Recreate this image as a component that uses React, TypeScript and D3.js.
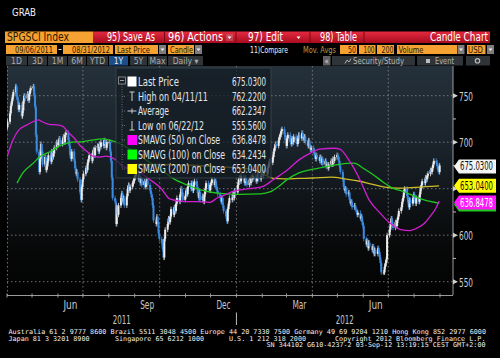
import React from "react";
import * as d3 from "d3";

// ---------------- DATA ----------------
const openingPrice = 716;
const closesApr2011 = [722, 731, 739, 744, 749, 754, 760, 749, 745, 735, 740, 728, 734, 744, 750, 747, 752, 745, 752, 756, 758];
const closesMay2011 = [760, 750, 738, 708, 690, 668, 682, 698, 690, 676, 684, 670, 674, 680, 686, 679, 690, 684, 688, 694, 700, 697];
const closesJun2011 = [700, 704, 698, 702, 706, 700, 708, 710, 702, 696, 686, 682, 690, 680, 672, 666, 668, 660, 646, 638, 652, 660];
const closesJul2011 = [666, 672, 670, 678, 682, 686, 680, 688, 692, 686, 694, 696, 690, 698, 695, 700, 696, 702, 698, 694, 700];
const closesAug2011 = [700, 690, 680, 662, 640, 636, 612, 630, 622, 632, 640, 645, 636, 640, 632, 642, 650, 654, 648, 652, 656, 658, 662];
const closesSep2011 = [664, 668, 660, 664, 656, 660, 654, 658, 652, 656, 660, 654, 648, 644, 640, 632, 616, 612, 620, 614, 602, 596];
const closesOct2011 = [592, 585, 576, 596, 606, 612, 618, 614, 620, 628, 622, 630, 626, 634, 640, 636, 644, 650, 646, 638, 642];
const closesNov2011 = [648, 644, 652, 656, 650, 656, 648, 654, 658, 652, 645, 640, 646, 638, 642, 636, 644, 650, 656, 652, 648, 654];
const closesDec2011 = [656, 660, 654, 658, 652, 648, 644, 640, 636, 640, 632, 626, 620, 615, 628, 634, 640, 638, 644, 640, 648, 646];
const closesJan2012 = [654, 660, 662, 658, 664, 660, 656, 662, 658, 654, 660, 656, 662, 660, 664, 660, 658, 662, 666, 660, 664, 666];
const closesFeb2012 = [664, 668, 670, 666, 672, 676, 680, 678, 684, 690, 694, 698, 696, 702, 706, 708, 712, 714, 708, 702, 696];
const closesMar2012 = [704, 708, 700, 698, 704, 700, 706, 702, 698, 704, 708, 704, 710, 706, 702, 706, 700, 696, 702, 696, 692, 694];
const closesApr2012 = [690, 686, 682, 686, 684, 680, 684, 678, 682, 676, 680, 674, 676, 672, 676, 680, 676, 682, 680, 684, 686];
const closesMay2012 = [684, 680, 674, 668, 660, 652, 648, 650, 644, 646, 638, 634, 636, 630, 632, 628, 626, 622, 624, 618, 620, 614, 610];
const closesJun2012 = [596, 590, 594, 586, 592, 588, 584, 588, 580, 584, 580, 586, 582, 576, 570, 560, 560, 566, 570, 574, 600];
const closesJul2012 = [606, 612, 618, 612, 608, 614, 610, 616, 620, 626, 630, 636, 640, 646, 650, 642, 636, 630, 638, 634, 640, 644];
const closesAug2012 = [638, 634, 640, 636, 644, 650, 654, 658, 656, 662, 660, 664, 666, 670, 668, 672, 676, 680, 678, 674, 670, 668, 675.03];

const months: [number, number, number[]][] = [
  [2011, 3, closesApr2011], [2011, 4, closesMay2011], [2011, 5, closesJun2011], [2011, 6, closesJul2011],
  [2011, 7, closesAug2011], [2011, 8, closesSep2011], [2011, 9, closesOct2011], [2011, 10, closesNov2011],
  [2011, 11, closesDec2011], [2012, 0, closesJan2012], [2012, 1, closesFeb2012], [2012, 2, closesMar2012],
  [2012, 3, closesApr2012], [2012, 4, closesMay2012], [2012, 5, closesJun2012], [2012, 6, closesJul2012],
  [2012, 7, closesAug2012],
];

const sma50: [string, number][] = [
  ["2011-04-01", 684], ["2011-04-08", 702], ["2011-04-15", 713], ["2011-04-25", 718.6], ["2011-05-02", 722],
  ["2011-05-09", 724], ["2011-05-13", 722], ["2011-05-23", 719], ["2011-05-31", 718.6], ["2011-06-07", 717],
  ["2011-06-13", 711], ["2011-06-20", 705], ["2011-06-27", 697], ["2011-07-06", 690], ["2011-07-13", 685],
  ["2011-07-21", 684], ["2011-07-29", 685], ["2011-08-08", 682], ["2011-08-18", 674], ["2011-09-05", 668.6],
  ["2011-09-19", 660], ["2011-10-03", 650], ["2011-10-13", 639], ["2011-10-28", 636.4], ["2011-11-15", 636],
  ["2011-11-30", 635.4], ["2011-12-09", 640], ["2011-12-19", 643.6], ["2011-12-28", 647], ["2012-01-17", 650],
  ["2012-02-02", 652.5], ["2012-02-14", 659.6], ["2012-03-02", 670], ["2012-03-16", 681], ["2012-03-29", 688],
  ["2012-04-10", 692.5], ["2012-04-27", 693.5], ["2012-05-04", 692.5], ["2012-05-16", 679], ["2012-05-28", 659.6],
  ["2012-06-08", 638], ["2012-06-21", 624], ["2012-07-03", 613], ["2012-07-16", 606], ["2012-07-27", 605],
  ["2012-08-03", 607], ["2012-08-13", 612.5], ["2012-08-20", 620], ["2012-08-27", 629], ["2012-08-31", 636.85],
];
const sma100: [string, number][] = [
  ["2011-04-13", 656], ["2011-04-20", 667], ["2011-05-02", 677], ["2011-05-10", 684], ["2011-05-23", 690],
  ["2011-06-03", 696], ["2011-06-15", 699.6], ["2011-07-01", 700.7], ["2011-07-18", 703], ["2011-07-25", 703.6],
  ["2011-08-08", 700.7], ["2011-08-26", 693], ["2011-09-13", 682], ["2011-10-03", 670], ["2011-10-19", 660],
  ["2011-11-03", 654], ["2011-11-18", 649], ["2011-12-12", 645], ["2012-01-05", 644], ["2012-01-30", 644.5],
  ["2012-02-10", 646.5], ["2012-02-20", 652], ["2012-03-02", 660], ["2012-03-16", 667], ["2012-04-02", 671],
  ["2012-04-19", 674], ["2012-05-01", 676], ["2012-05-21", 677.5], ["2012-06-01", 672], ["2012-06-13", 665],
  ["2012-06-25", 657], ["2012-07-06", 650.7], ["2012-07-19", 647], ["2012-07-31", 642.5], ["2012-08-13", 638],
  ["2012-08-24", 635.7], ["2012-08-31", 634.24],
];
const sma200: [string, number][] = [
  ["2011-08-31", 676], ["2011-09-19", 676], ["2011-10-25", 675.5], ["2011-12-05", 674], ["2012-01-05", 672],
  ["2012-01-17", 671], ["2012-02-02", 666], ["2012-02-14", 661], ["2012-02-28", 660.5], ["2012-03-16", 661],
  ["2012-04-02", 661.5], ["2012-04-23", 662.5], ["2012-05-14", 660], ["2012-05-28", 658], ["2012-06-08", 655.5],
  ["2012-06-25", 652], ["2012-07-12", 650.7], ["2012-08-03", 651.5], ["2012-08-31", 653.04],
];

const yTicks = [550, 600, 650, 700, 750];
const yTickLabels = [550, 600, 700, 750];
const yMinorTicks = [575, 625, 675, 725];
const monthLabelKeys = ["2011-06", "2011-09", "2011-12", "2012-03", "2012-06"];
const yearLabels = ["2011", "2012"];

const legendLabels = ["Last Price", "High on 04/11/11", "Average", "Low on 06/22/12", "SMAVG (50) on Close", "SMAVG (100) on Close", "SMAVG (200) on Close"];
const legendValues = ["675.0300", "762.2200", "662.2347", "555.5600", "636.8478", "634.2434", "653.0400"];
const legendWidths = [41, 70, 31, 66, 82, 87, 87];

const lastPrice = 675.03;
const lastSma50 = 636.8478;
const lastSma200 = 653.04;

const footer1 = "Australia 61 2 9777 8600 Brazil 5511 3048 4500 Europe 44 20 7330 7500 Germany 49 69 9204 1210 Hong Kong 852 2977 6000";
const footer2 = ["Japan 81 3 3201 8900", "Singapore 65 6212 1000", "U.S. 1 212 318 2000", "Copyright 2012 Bloomberg Finance L.P."];
const footer3 = "SN 344102 G610-4237-2 03-Sep-12 13:19:15 CEST GMT+2:00";

// ---------------- STYLE ----------------
const FONT = '"Liberation Sans Narrow", "DejaVu Sans Condensed", "Arial Narrow", "Liberation Sans", sans-serif';
const MONO = '"DejaVu Sans Mono", "Liberation Mono", monospace';
const ORANGE = "#f5a232";
const C50 = "#d21ed2";
const C100 = "#1fc81f";
const C200 = "#cdbd2c";

const L = 7, R = 453, T = 66, B = 295;

const parse = d3.utcParse("%Y-%m-%d");
const parseM = d3.utcParse("%Y-%m");

function weekdays(y: number, m: number) {
  return d3.utcDay
    .range(new Date(Date.UTC(y, m, 1)), new Date(Date.UTC(y, m + 1, 1)))
    .filter((d) => d.getUTCDay() !== 0 && d.getUTCDay() !== 6);
}

export default function App() {
  const x = d3.scaleUtc().domain([new Date(Date.UTC(2011, 3, 1)), new Date(Date.UTC(2012, 8, 1))]).range([L, 440]);
  const y = d3.scaleLinear().domain([550, 750]).range([281.7, 95.7]);

  const bars: { date: Date; open: number; close: number }[] = [];
  let prev = openingPrice;
  months.forEach(([yy, mm, closes]) => {
    const days = weekdays(yy, mm);
    closes.forEach((c, i) => {
      if (days[i]) bars.push({ date: days[i], open: prev, close: c });
      prev = c;
    });
  });

  const line = d3
    .line<[string, number]>()
    .x((d) => x(parse(d[0])!))
    .y((d) => y(d[1]))
    .curve(d3.curveMonotoneX);

  const monthTicks = d3.utcMonth.range(new Date(Date.UTC(2011, 3, 1)), new Date(Date.UTC(2012, 8, 2)));
  const quarterLines = monthTicks.filter((d) => d.getUTCMonth() % 3 === 0 && d > monthTicks[0]);
  const jan2012 = x(new Date(Date.UTC(2012, 0, 1)));

  const tagShape = (cy: number, fill: string) => {
    const h = 7;
    return <path d={`M454,${cy} L459,${cy - h} L496,${cy - h} L496,${cy + h} L459,${cy + h} Z`} fill={fill} />;
  };
  const tag = (v: number, cy: number, fill: string, color: string, key: string) => (
    <g key={key}>
      {tagShape(cy, fill)}
      <text x={460} y={cy + 4} fontFamily={FONT} fontSize={11.5} fill={color} textLength={33} lengthAdjust="spacingAndGlyphs">
        {v.toFixed(4)}
      </text>
    </g>
  );

  const box = (x0: number, y0: number, w: number, h: number, fill: string, key: string) => (
    <rect key={key} x={x0} y={y0} width={w} height={h} fill={fill} />
  );
  const dd = (x0: number, y0: number, key: string) => (
    <g key={key}>
      <rect x={x0} y={y0} width={7} height={9} fill="#7d7d7d" />
      <path d={`M${x0 + 1.5},${y0 + 3.5} L${x0 + 5.5},${y0 + 3.5} L${x0 + 3.5},${y0 + 6} Z`} fill="#eee" />
    </g>
  );
  const txt = (s: string, x0: number, y0: number, size: number, fill: string, w?: number, anchor = "start", key?: string) => (
    <text key={key || s + x0} x={x0} y={y0} fontFamily={FONT} fontSize={size} fill={fill} textAnchor={anchor}
      {...(w ? { textLength: w, lengthAdjust: "spacingAndGlyphs" } : {})}>
      {s}
    </text>
  );

  const rowY = [82, 96.5, 111, 125.5, 140, 154.5, 169];

  return (
    <svg width={500} height={358} style={{ position: "absolute", left: 0, top: 0, display: "block", background: "#000" }}>
      <defs>
        <linearGradient id="bg" x1="0" y1="0" x2="0" y2="1">
          <stop offset="0" stopColor="#24303a" />
          <stop offset="0.35" stopColor="#1a232b" />
          <stop offset="0.6" stopColor="#0f1317" />
          <stop offset="0.8" stopColor="#070808" />
          <stop offset="1" stopColor="#020202" />
        </linearGradient>
        <linearGradient id="red" x1="0" y1="0" x2="0" y2="1">
          <stop offset="0" stopColor="#e42a40" />
          <stop offset="1" stopColor="#a80c1e" />
        </linearGradient>
        <clipPath id="plot">
          <rect x={L} y={T} width={R - L} height={B - T} />
        </clipPath>
      </defs>
      <rect x={0} y={0} width={500} height={358} fill="#000" />

      {/* header */}
      {txt("GRAB", 12, 16, 11, "#f0f0f0", 24)}
      {box(5, 31.5, 88, 11.5, ORANGE, "b1")}
      {txt("SPGSCI Index", 7, 41, 11.5, "#2a1800", 62)}
      <rect x={93} y={31.5} width={397} height={11.5} fill="url(#red)" />
      <line x1={164.5} y1={31.5} x2={164.5} y2={43} stroke="#7a0810" />
      <line x1={236} y1={31.5} x2={236} y2={43} stroke="#7a0810" />
      <line x1={310} y1={31.5} x2={310} y2={43} stroke="#7a0810" />
      <line x1={364} y1={31.5} x2={364} y2={43} stroke="#7a0810" />
      {txt("95) Save As", 107, 41, 11.5, "#fff", 48)}
      {txt("96) Actions", 168, 41, 11.5, "#fff", 55)}
      <rect x={226} y={34} width={7} height={7} fill="#c8c8c8" opacity={0.25} />
      <path d="M227.5,36.5 L231.5,36.5 L229.5,39 Z" fill="#fff" />
      {txt("97) Edit", 248, 41, 11.5, "#fff", 35)}
      <path d="M296.5,36.5 L300.5,36.5 L298.5,39 Z" fill="#fff" />
      {txt("98) Table", 320, 41, 11.5, "#fff", 37)}
      {txt("Candle Chart", 488, 41, 11.5, "#fff", 58, "end")}

      {/* row 2 */}
      {box(6, 45, 51, 9, ORANGE, "r2a")}
      {txt("09/06/2011", 15, 52.5, 9, "#2a1800", 38)}
      <line x1={58.5} x2={61.5} y1={49.5} y2={49.5} stroke="#ddd" strokeWidth={1} />
      {box(63, 45, 50, 9, ORANGE, "r2b")}
      {txt("08/31/2012", 72, 52.5, 9, "#2a1800", 38)}
      {box(115, 45, 43, 9, ORANGE, "r2c")}
      {txt("Last Price", 117, 52.5, 9, "#2a1800", 33)}
      {dd(159, 45, "dd1")}
      {box(168, 45, 26, 9, ORANGE, "r2d")}
      {txt("Candle", 170, 52.5, 9, "#2a1800", 23)}
      {dd(195, 45, "dd2")}
      {txt("11)Compare", 250, 52.5, 9, "#f0f0f0", 38)}
      {txt("Mov. Avgs", 303, 52.5, 9, "#b89c48", 33)}
      {box(340, 45, 17, 9, ORANGE, "m1")}
      {txt("50", 356, 52.5, 9, "#2a1800", 8, "end")}
      {box(359, 45, 16.5, 9, ORANGE, "m2")}
      {txt("100", 374.5, 52.5, 9, "#2a1800", 11, "end")}
      {box(377, 45, 17, 9, ORANGE, "m3")}
      {txt("200", 393.5, 52.5, 9, "#2a1800", 12, "end")}
      {box(397, 45, 60, 9, ORANGE, "m4")}
      {txt("Volume", 398.5, 52.5, 9, "#2a1800", 25)}
      {dd(457.5, 45, "dd3")}
      {box(467, 45, 18.5, 9, ORANGE, "m5")}
      {txt("USD", 468, 52.5, 9, "#2a1800", 15)}
      {dd(487, 45, "dd4")}

      {/* row 3 */}
      {[
        ["1D", 6, 27], ["3D", 28, 47], ["1M", 48, 67], ["6M", 68, 86], ["YTD", 87, 108], ["1Y", 109, 128],
        ["5Y", 130, 147], ["Max", 148, 167], ["Daily \u25BE", 168, 203],
      ].map(([s, a, b]) => (
        <g key={"t" + s}>
          <rect x={a as number} y={56} width={(b as number) - (a as number)} height={9.5} fill={s === "1Y" ? "#1d4d88" : "#2f3438"} />
          <text x={((a as number) + (b as number)) / 2} y={63.8} fontFamily={FONT} fontSize={8.5} fill={s === "1Y" ? "#e8e8e8" : "#a9adb0"} textAnchor="middle">
            {s}
          </text>
        </g>
      ))}
      <rect x={323} y={56} width={7.5} height={9.5} fill="#5e6266" />
      {txt("\u00AB", 324.5, 63.5, 8, "#ddd")}
      <rect x={332} y={56} width={83} height={9.5} fill="#2f3438" />
      <path d="M345,63.5 L347,60 L349,62 L351,58.5" stroke="#bbb" fill="none" strokeWidth={0.9} />
      {txt("Security/Study", 353, 63.8, 8.5, "#b0b4b7", 51)}
      <rect x={417} y={56} width={46} height={9.5} fill="#2f3438" />
      <rect x={426} y={59} width={4} height={4} fill="#bbb" />
      {txt("Event", 435, 63.8, 8.5, "#b0b4b7", 19)}
      <rect x={466} y={56} width={24} height={9.5} fill="#2f3438" />
      <circle cx={477.5} cy={60.8} r={2.2} fill="none" stroke="#bbb" strokeWidth={1.2} />

      {/* plot background */}
      <rect x={L} y={T} width={R - L} height={B - T} fill="url(#bg)" />

      {/* grid */}
      {yTicks.map((t) => (
        <line key={"gy" + t} x1={L} x2={R} y1={y(t)} y2={y(t)} stroke="#8c8c8c" strokeWidth={0.8} strokeDasharray="1.5,2.5" />
      ))}
      {quarterLines.map((d) => (
        <line key={"gx" + d.toISOString()} x1={x(d)} x2={x(d)} y1={T} y2={B} stroke="#8c8c8c" strokeWidth={0.8} strokeDasharray="1.5,2.5" />
      ))}
      <line x1={L + 0.5} x2={L + 0.5} y1={T} y2={B} stroke="#8c8c8c" strokeWidth={0.8} strokeDasharray="1.5,2.5" />

      {/* candles */}
      <g clipPath="url(#plot)">
        {bars.map((b, i) => {
          const cx = x(b.date) + 0.5;
          const y1 = y(Math.max(b.open, b.close));
          const y2 = y(Math.min(b.open, b.close));
          const up = b.close >= b.open;
          const col = up ? "#ececec" : "#3a8ae0";
          return (
            <g key={"c" + i}>
              <line x1={cx} x2={cx} y1={y1 - 2.5} y2={y2 + 2.5} stroke={col} strokeWidth={0.8} />
              <rect x={cx - 1} y={y1} width={2} height={Math.max(1, y2 - y1)} fill={col} />
            </g>
          );
        })}
        <path d={line(sma200) || ""} fill="none" stroke={C200} strokeWidth={1.3} />
        <path d={line(sma100) || ""} fill="none" stroke={C100} strokeWidth={1.3} />
        <path d={line(sma50) || ""} fill="none" stroke={C50} strokeWidth={1.3} />
      </g>

      {/* legend */}
      <rect x={116} y={68} width={155} height={110} fill="#141c23" fillOpacity={0.72} stroke="#3c4650" strokeWidth={0.8} />
      <rect x={118.5} y={77} width={7} height={7} fill="none" stroke="#9a9a9a" strokeWidth={0.8} />
      <line x1={120} x2={124} y1={80.5} y2={80.5} stroke="#bbb" strokeWidth={0.8} />
      <line x1={122} x2={122} y1={84} y2={169} stroke="#8a8a8a" strokeWidth={0.7} strokeDasharray="1,1.5" />
      {rowY.slice(1).map((ry, i) => (
        <line key={"lt" + i} x1={122} x2={126} y1={ry} y2={ry} stroke="#8a8a8a" strokeWidth={0.7} strokeDasharray="1,1" />
      ))}
      <rect x={127.5} y={76.5} width={9} height={10} fill="#fff" />
      <g stroke="#cfcfcf" strokeWidth={1}>
        <line x1={132} x2={132} y1={92} y2={101} />
        <line x1={129.5} x2={134.5} y1={92} y2={92} />
        <line x1={127.5} x2={136.5} y1={111} y2={111} />
        <line x1={132} x2={132} y1={108.5} y2={113.5} />
        <line x1={132} x2={132} y1={121} y2={130} />
        <line x1={129.5} x2={134.5} y1={130} y2={130} />
      </g>
      <rect x={127.5} y={135} width={9.5} height={10} fill="#ff00ff" />
      <rect x={127.5} y={149.5} width={9.5} height={10} fill="#00ff00" />
      <rect x={127.5} y={164} width={9.5} height={10} fill="#ffff00" />
      {legendLabels.map((s, i) => txt(s, 138, rowY[i] + 4, 11.5, "#e4e6e8", legendWidths[i], "start", "ll" + i))}
      {legendValues.map((s, i) => txt(s, 266, rowY[i] + 4, 11.5, "#e4e6e8", 34, "end", "lv" + i))}

      {/* right axis */}
      <line x1={R} x2={R} y1={T} y2={B} stroke="#9a9a9a" strokeWidth={1} />
      {yMinorTicks.map((t) => (
        <line key={"ym" + t} x1={R} x2={R + 3} y1={y(t)} y2={y(t)} stroke="#bbb" strokeWidth={1} />
      ))}
      {yTicks.map((t) => (
        <path key={"yt" + t} d={`M${R},${y(t) - 2.5} L${R + 5},${y(t)} L${R},${y(t) + 2.5} Z`} fill="#d0d0d0" />
      ))}
      {yTickLabels.map((t) => txt(String(t), 459, y(t) + 5, 13, "#cfcfcf", 14, "start", "yl" + t))}

      {/* value tags (SMAVG 100 tag sits hidden beneath the SMAVG 50 tag) */}
      {tagShape(204.5, "#1fc81f")}
      {tag(lastPrice, y(lastPrice) + 1, "#f4f4f4", "#111", "tgp")}
      {tag(lastSma200, y(lastSma200), "#ffff00", "#111", "tg200")}
      {tag(lastSma50, 202.5, "#ff18ff", "#fff", "tg50")}

      {/* bottom axis */}
      <line x1={L} x2={R} y1={B + 0.5} y2={B + 0.5} stroke="#9a9a9a" strokeWidth={1} />
      {monthTicks.map((d) => (
        <line key={"mt" + d.toISOString()} x1={x(d)} x2={x(d)} y1={B - 1.5} y2={B + 2.5} stroke="#aaa" strokeWidth={0.9} />
      ))}
      {monthLabelKeys.map((k) => {
        const m0 = parseM(k)!;
        const m1 = d3.utcMonth.offset(m0, 1);
        return txt(d3.utcFormat("%b")(m0), (x(m0) + x(m1)) / 2, 309, 11.5, "#c8c8c8", 14, "middle", "ml" + k);
      })}
      {txt(yearLabels[0], (L + jan2012) / 2, 323.5, 11.5, "#c8c8c8", 18, "middle", "y0")}
      {txt(yearLabels[1], (jan2012 + R) / 2, 323.5, 11.5, "#c8c8c8", 18, "middle", "y1")}
      <line x1={jan2012} x2={jan2012} y1={312.5} y2={325} stroke="#bbb" strokeWidth={1} />

      {/* footer */}
      <g fontFamily={MONO} fontSize={6.6} fill="#f0f0f0">
        <text x={8.5} y={334} textLength={477.5} lengthAdjust="spacingAndGlyphs">{footer1}</text>
        <text x={8.5} y={340.5} textLength={81} lengthAdjust="spacingAndGlyphs">{footer2[0]}</text>
        <text x={115} y={340.5} textLength={89} lengthAdjust="spacingAndGlyphs">{footer2[1]}</text>
        <text x={229} y={340.5} textLength={77} lengthAdjust="spacingAndGlyphs">{footer2[2]}</text>
        <text x={335} y={340.5} textLength={150.5} lengthAdjust="spacingAndGlyphs">{footer2[3]}</text>
        <text x={266.5} y={347} textLength={219} lengthAdjust="spacingAndGlyphs">{footer3}</text>
      </g>
    </svg>
  );
}
